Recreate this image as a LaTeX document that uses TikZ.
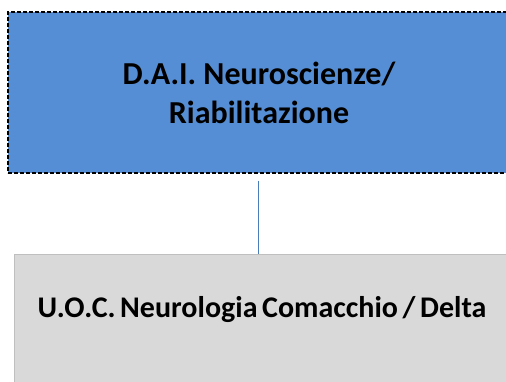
\documentclass[tikz,border=0pt]{standalone}
\usepackage{fontspec}
\setmainfont{Carlito}
\usetikzlibrary{positioning}
\definecolor{daiblue}{RGB}{85,142,213}
\definecolor{uocgray}{RGB}{217,217,217}
\definecolor{uocedge}{RGB}{191,191,191}
\definecolor{linkblue}{RGB}{74,126,187}
\newcommand{\tightwords}{\spaceskip=4.6pt\relax}
\tikzset{
  dept/.style  = {rectangle, draw=black, dash pattern=on 4pt off 2pt, line width=1.3pt,
                  fill=daiblue, align=center, inner sep=0pt,
                  font=\fontsize{32}{39}\selectfont\bfseries},
  unit/.style  = {rectangle, draw=uocedge, line width=0.9pt, fill=uocgray,
                  align=center, inner sep=0pt,
                  font=\fontsize{30}{36}\selectfont\bfseries},
  link/.style  = {draw=linkblue, line width=0.8pt},
}
\begin{document}
\begin{tikzpicture}[x=1pt,y=-1pt]
  \useasboundingbox (0,0) rectangle (506,381);
  \clip (0,0) rectangle (506,381);

  \node[dept, minimum width=502pt, minimum height=161pt] (dai) at (259,92.5)
       {D.A.I. Neuroscienze/\\Riabilitazione};
  \node[unit, anchor=north, minimum width=496pt, minimum height=150pt,
        text height=20pt, text depth=44pt] (uoc) at (262,254)
       {\tightwords U.O.C. Neurologia Comacchio / Delta};

  \draw[link] ([xshift=-1pt,yshift=-7pt]dai.south) -- ([xshift=-4pt]uoc.north);

\end{tikzpicture}
\end{document}
